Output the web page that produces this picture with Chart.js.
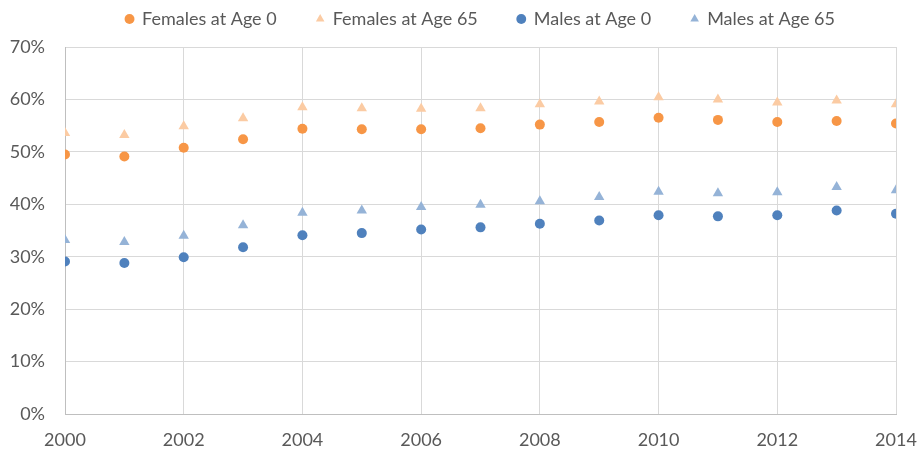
<!DOCTYPE html>
<html>
<head>
<meta charset="utf-8">
<script src="https://cdn.jsdelivr.net/npm/chart.js@4"></script>
<style>
  html, body { margin: 0; padding: 0; background: #fff; }
  #wrap { width: 920px; height: 451px; }
</style>
</head>
<body>
<div id="wrap"><canvas id="scatterChart"></canvas></div>
<script>
const years = [2000, 2001, 2002, 2003, 2004, 2005, 2006, 2007, 2008, 2009, 2010, 2011, 2012, 2013, 2014];
const femalesAge0 = [49.5, 49.1, 50.8, 52.4, 54.4, 54.3, 54.3, 54.5, 55.2, 55.7, 56.5, 56.1, 55.7, 55.9, 55.4];
const femalesAge65 = [53.6, 53.2, 54.9, 56.4, 58.5, 58.3, 58.2, 58.3, 59.1, 59.6, 60.4, 60.0, 59.4, 59.8, 59.1];
const malesAge0 = [29.1, 28.8, 29.9, 31.8, 34.1, 34.5, 35.2, 35.6, 36.3, 36.9, 37.9, 37.7, 37.9, 38.8, 38.2];
const malesAge65 = [33.2, 32.8, 34.0, 36.0, 38.4, 38.8, 39.5, 39.9, 40.6, 41.4, 42.4, 42.1, 42.3, 43.3, 42.7];
const yTicks = [0, 10, 20, 30, 40, 50, 60, 70];

const toPoints = (vals) => vals.map((v, i) => ({ x: years[i], y: v }));

const fontFamily = "Lato, 'Noto Sans', sans-serif";
const legendPad = 40;

// legend sits higher than its box and centred over the plot
const legendPlacement = {
    id: "legendPlacement",
    beforeInit(chart) {
        const fit = chart.legend.fit;
        chart.legend.fit = function () {
            fit.bind(chart.legend)();
            this.height = 47;
        };
    },
    afterLayout(chart) {
        const lg = chart.legend;
        lg.top = 10 - legendPad;
        const shift = (chart.chartArea.left + chart.chartArea.right) / 2 - (lg.left + lg.right) / 2;
        lg.left += shift;
        lg.right += shift;
    },
};

const ctx = document.querySelector("#scatterChart").getContext("2d");
const chart = new Chart(ctx, {
    type: "scatter",
    data: {
        datasets: [
            {
                label: "Females at Age 0",
                data: toPoints(femalesAge0),
                pointStyle: "circle",
                pointRadius: 5,
                backgroundColor: "#F79646",
                borderColor: "#F79646",
                borderWidth: 0,
            },
            {
                label: "Females at Age 65",
                data: toPoints(femalesAge65),
                pointStyle: "triangle",
                pointRadius: 6,
                backgroundColor: "#FBCBA3",
                borderColor: "#FBCBA3",
                borderWidth: 0,
            },
            {
                label: "Males at Age 0",
                data: toPoints(malesAge0),
                pointStyle: "circle",
                pointRadius: 5,
                backgroundColor: "#4F81BD",
                borderColor: "#4F81BD",
                borderWidth: 0,
            },
            {
                label: "Males at Age 65",
                data: toPoints(malesAge65),
                pointStyle: "triangle",
                pointRadius: 6,
                backgroundColor: "#95B3D7",
                borderColor: "#95B3D7",
                borderWidth: 0,
            },
        ],
    },
    plugins: [legendPlacement],
    options: {
        responsive: true,
        maintainAspectRatio: false,
        animation: false,
        layout: { padding: { left: 0, right: 24, top: 0, bottom: 0 } },
        plugins: {
            tooltip: { enabled: false },
            legend: {
                position: "top",
                labels: {
                    usePointStyle: true,
                    boxWidth: 7,
                    boxHeight: 7,
                    padding: legendPad,
                    color: "#595959",
                    font: { family: fontFamily, size: 18 },
                },
            },
        },
        scales: {
            x: {
                type: "linear",
                min: 2000,
                max: 2014,
                afterFit: (scale) => {
                    scale.height = 37;
                    scale.paddingLeft = 0;
                    scale.paddingRight = 0;
                },
                ticks: {
                    stepSize: 2,
                    color: "#595959",
                    font: { family: fontFamily, size: 18 },
                    padding: 15,
                    maxRotation: 0,
                    callback: (v) => String(v),
                },
                grid: { color: "#D9D9D9", drawTicks: false },
                border: { color: "#BFBFBF" },
            },
            y: {
                min: 0,
                max: 70,
                afterBuildTicks: (scale) => {
                    scale.ticks = yTicks.map((v) => ({ value: v }));
                },
                afterFit: (scale) => {
                    scale.width = 65;
                },
                ticks: {
                    color: "#595959",
                    font: { family: fontFamily, size: 18 },
                    padding: 20,
                    callback: (v) => v + "%",
                },
                grid: { color: "#D9D9D9", drawTicks: false },
                border: { color: "#BFBFBF" },
            },
        },
    },
});
</script>
</body>
</html>
